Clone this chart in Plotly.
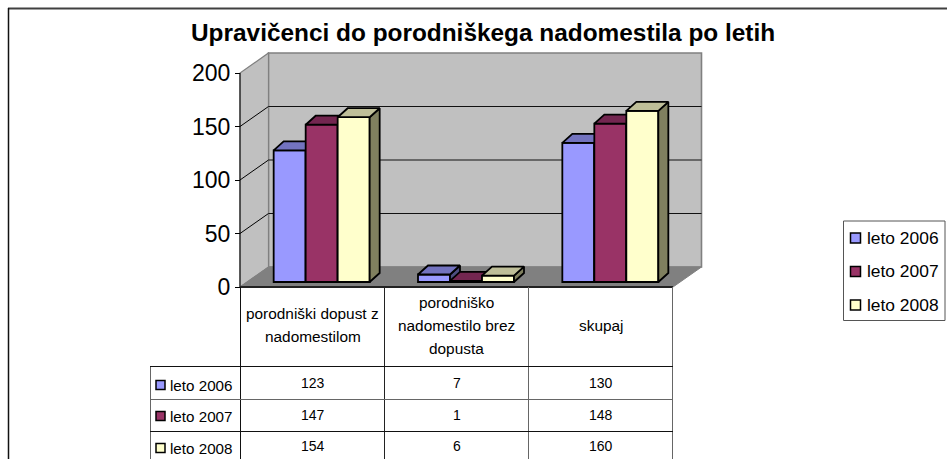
import plotly.graph_objects as go

# ---- data ----
title = "Upravičenci do porodniškega nadomestila po letih"
categories = ["porodniški dopust z\nnadomestilom", "porodniško\nnadomestilo brez\ndopusta", "skupaj"]
series_names = ["leto 2006", "leto 2007", "leto 2008"]
leto_2006 = [123, 7, 130]
leto_2007 = [147, 1, 148]
leto_2008 = [154, 6, 160]
y_ticks = [0, 50, 100, 150, 200]

series = [leto_2006, leto_2007, leto_2008]
front = ["#9999FF", "#993366", "#FFFFCC"]
top = ["#7373BF", "#732650", "#BFBF99"]
side = ["#4D4D80", "#4D1A33", "#80805F"]

# ---- canvas / scale ----
W, H = 947, 459
PX0, PY0 = 240, 287          # origin of the front plane in pixels
UX, UY = 433 / 3, 214 / 200  # pixels per category, pixels per value
def dx(p): return p / UX
def dy(p): return p / UY
def DX(px): return (px - PX0) / UX
def DY(py): return (PY0 - py) / UY
def PXX(px): return px / W
def PYY(py): return 1 - py / H

x_range = [DX(0), DX(W)]
y_range = [DY(H), DY(0)]

bar_w = dx(32)
shift = dx(9.5)
lift = dy(5)
depth_x, depth_y = dx(10), dy(9)
wall_x, wall_y = dx(28.5), dy(20)

fig = go.Figure()
suffix = ["", "2", "3"]
for s, vals in enumerate(series):
    centers = [c + 0.5 + shift + (s - 1) * bar_w for c in range(len(vals))]
    xa, ya = "x" + suffix[s], "y" + suffix[s]
    fig.add_trace(go.Bar(
        x=centers, y=vals, base=[lift] * len(vals), width=bar_w, name=series_names[s],
        xaxis=xa, yaxis=ya, showlegend=False,
        marker=dict(color=front[s], line=dict(color="black", width=1.8)), hoverinfo="y"))
    tx, ty, sx, sy = [], [], [], []
    for c, v in zip(centers, vals):
        l, r = c - bar_w / 2, c + bar_w / 2
        t = lift + v
        tx += [l, l + depth_x, r + depth_x, r, l, None]
        ty += [t, t + depth_y, t + depth_y, t, t, None]
        sx += [r, r + depth_x, r + depth_x, r, r, None]
        sy += [t, t + depth_y, lift + depth_y, lift, t, None]
    for fx, fy, col in ((sx, sy, side[s]), (tx, ty, top[s])):
        fig.add_trace(go.Scatter(
            x=fx, y=fy, mode="lines", fill="toself", fillcolor=col, xaxis=xa, yaxis=ya,
            line=dict(color="black", width=1.8), showlegend=False, hoverinfo="skip"))

# ---- walls and floor ----
shapes = []
def poly(pts, fill, line, width=1.0, layer="below"):
    path = "M " + " L ".join(f"{a},{b}" for a, b in pts) + " Z"
    shapes.append(dict(type="path", path=path, xref="x", yref="y", fillcolor=fill,
                       line=dict(color=line, width=width), layer=layer))
def seg(p, q, color="black", width=1.0, layer="below"):
    shapes.append(dict(type="line", x0=p[0], y0=p[1], x1=q[0], y1=q[1], xref="x", yref="y",
                       line=dict(color=color, width=width), layer=layer))

n = len(categories)
poly([(wall_x, wall_y), (n + wall_x, wall_y), (n + wall_x, 200 + wall_y), (wall_x, 200 + wall_y)], "#C0C0C0", "#808080", 1.6)
poly([(0, 0), (wall_x, wall_y), (wall_x, 200 + wall_y), (0, 200)], "#C0C0C0", "#808080", 1.2)
poly([(0, 0), (n, 0), (n + wall_x, wall_y), (wall_x, wall_y)], "#808080", "#808080", 1.0)
for t in y_ticks[1:-1]:
    seg((0, t), (wall_x, t + wall_y))
    seg((wall_x, t + wall_y), (n + wall_x, t + wall_y), "#111111")
seg((0, 0), (0, 200))
seg((0, 0), (n, 0), "#222222", 2)

# ---- table grid and frame, in pixels ----
def pline(x0, y0, x1, y1, color, width=1.0):
    shapes.append(dict(type="line", xref="paper", yref="paper", x0=PXX(x0), x1=PXX(x1),
                       y0=PYY(y0), y1=PYY(y1), line=dict(color=color, width=width)))
pline(8, 8.5, W, 8.5, "#404040", 2)
pline(8.5, 8, 8.5, H, "#111111", 1.5)
for x, col in ((240.5, "#111111"), (384.5, "#222222"), (528.5, "#666666"), (672.5, "#666666")):
    pline(x, 287, x, H, col)
pline(150.5, 366, 150.5, H, "#666666")
pline(150, 366.5, 673, 366.5, "#111111")
pline(150, 399.5, 673, 399.5, "#666666")
pline(150, 431.5, 673, 431.5, "#111111")

# ---- texts ----
ann = []
def text(s, px, py, size, anchor="center", bold=False):
    ann.append(dict(text=f"<b>{s}</b>" if bold else s, x=PXX(px), y=PYY(py), xref="paper", yref="paper",
                    showarrow=False, xanchor=anchor, yanchor="middle",
                    font=dict(size=size, color="black", family="Liberation Sans, Arial, sans-serif")))
def key(px, py, size, color):
    shapes.append(dict(type="rect", xref="paper", yref="paper", x0=PXX(px), x1=PXX(px + size),
                       y0=PYY(py - size / 2), y1=PYY(py + size / 2), fillcolor=color,
                       line=dict(color="black", width=1.5)))

text(title, 483, 33, 24.4, bold=True)
col_centers = [312.5, 456.5, 601]
row_y = [383, 415, 446]
key_y = [385, 416, 448]
for c, cat in zip(col_centers, categories):
    lines = cat.split("\n")
    for i, ln in enumerate(lines):
        text(ln, c, 325 + (i - (len(lines) - 1) / 2) * 23, 15.4)
for r, vals in enumerate(series):
    text(series_names[r], 167.5, key_y[r], 15.2, anchor="left")
    key(156, key_y[r], 9, front[r])
    for c, v in zip(col_centers, vals):
        text(str(v), c, row_y[r], 14)

# ---- legend ----
shapes.append(dict(type="rect", xref="paper", yref="paper", x0=PXX(843.5), x1=PXX(945),
                   y0=PYY(221), y1=PYY(320.5), fillcolor="white", line=dict(color="#555555", width=1)))
legend_y = [238, 271.5, 305]
for name, col, ly in zip(series_names, front, legend_y):
    key(850.5, ly, 10, col)
    text(name, 865, ly - 0.5, 17.4, anchor="left")

axis_hidden = dict(range=x_range, visible=False, fixedrange=True)
yaxis_hidden = dict(range=y_range, visible=False, fixedrange=True)
fig.update_layout(
    width=W, height=H, margin=dict(l=0, r=0, t=0, b=0), autosize=False,
    paper_bgcolor="white", plot_bgcolor="white", barmode="overlay",
    xaxis=dict(range=x_range, visible=False, domain=[0, 1], fixedrange=True),
    yaxis=dict(range=y_range, domain=[0, 1], anchor="free", position=PX0 / W, side="left",
               tickvals=y_ticks, ticks="outside", ticklen=5, tickcolor="black", tickwidth=1,
               showgrid=False, zeroline=False, showline=False, fixedrange=True,
               tickfont=dict(size=23, color="black", family="Liberation Sans, Arial, sans-serif")),
    xaxis2=dict(axis_hidden, overlaying="x", anchor="y2"),
    yaxis2=dict(yaxis_hidden, overlaying="y", anchor="x2"),
    xaxis3=dict(axis_hidden, overlaying="x", anchor="y3"),
    yaxis3=dict(yaxis_hidden, overlaying="y", anchor="x3"),
    shapes=shapes, annotations=ann, showlegend=False,
)
fig.write_html("out.html", config=dict(displayModeBar=False),
               post_script="document.body.style.margin='0';document.body.style.overflow='hidden';")
